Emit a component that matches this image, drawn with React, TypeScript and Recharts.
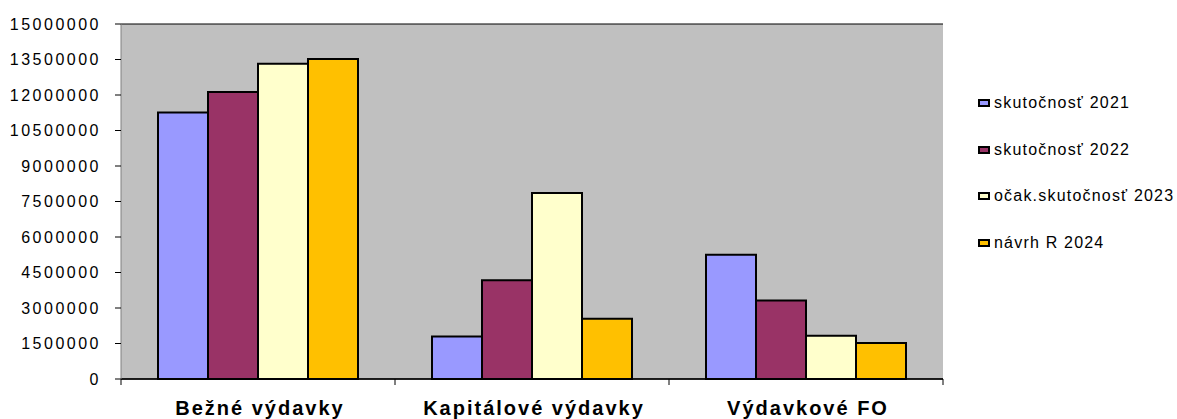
import { BarChart, Bar, XAxis, YAxis, CartesianGrid } from "recharts";

const categories = ["Bežné výdavky", "Kapitálové výdavky", "Výdavkové FO"];
const series = ["skutočnosť 2021", "skutočnosť 2022", "očak.skutočnosť 2023", "návrh R 2024"];
const colors = ["#9999FF", "#993366", "#FFFFCC", "#FFC000"];

const values2021 = [11260000, 1800000, 5250000];
const values2022 = [12130000, 4170000, 3320000];
const values2023 = [13320000, 7860000, 1830000];
const values2024 = [13520000, 2550000, 1520000];

const yTicks = [0, 1500000, 3000000, 4500000, 6000000, 7500000, 9000000, 10500000, 12000000, 13500000, 15000000];

const data = categories.map((name, i) => ({
  name,
  s0: values2021[i],
  s1: values2022[i],
  s2: values2023[i],
  s3: values2024[i],
}));

const W = 1177;
const H = 419;
const LEFT = 121;
const RIGHT = 943;
const BAND = (RIGHT - LEFT) / categories.length;

function CategoryTick(props: any) {
  const { x, y, payload, index } = props;
  return (
    <g>
      <line x1={x - BAND / 2} x2={x - BAND / 2} y1={y} y2={y + 6} stroke="#000" strokeWidth={1} />
      {index === categories.length - 1 && (
        <line x1={x + BAND / 2} x2={x + BAND / 2} y1={y} y2={y + 6} stroke="#000" strokeWidth={1} />
      )}
      <text
        x={x + 2}
        y={y + 36}
        textAnchor="middle"
        fontFamily="Liberation Sans, Arial, sans-serif"
        fontWeight="bold"
        fontSize={20}
        letterSpacing={2}
        fill="#000"
      >
        {payload.value}
      </text>
    </g>
  );
}

function LegendBox() {
  return (
    <div
      style={{
        position: "absolute",
        left: 978,
        top: 80,
        fontFamily: "Liberation Sans, Arial, sans-serif",
        fontSize: 16,
        letterSpacing: 1.2,
      }}
    >
      {series.map((s, i) => (
        <div key={s} style={{ display: "flex", alignItems: "center", height: 46.5, color: "#000" }}>
          <span
            style={{
              display: "inline-block",
              width: 8,
              height: 4,
              background: colors[i],
              border: "2px solid #000",
              marginRight: 4,
            }}
          />
          {s}
        </div>
      ))}
    </div>
  );
}

export default function App() {
  return (
    <div style={{ position: "absolute", left: 0, top: 0, width: W, height: H, background: "#fff" }}>
      <BarChart
        width={W}
        height={H}
        data={data}
        margin={{ top: 24, right: W - RIGHT, bottom: 0, left: 0 }}
        barGap={0}
        barCategoryGap={37}
      >
        <CartesianGrid vertical={false} stroke="#000" fill="#C0C0C0" fillOpacity={1} />
        <XAxis
          dataKey="name"
          height={H - 379}
          axisLine={{ stroke: "#000", strokeWidth: 1.5 }}
          tickLine={false}
          tickSize={0}
          tickMargin={0}
          tick={<CategoryTick />}
          interval={0}
        />
        <YAxis
          yAxisId="left"
          width={LEFT}
          domain={[0, 15000000]}
          ticks={yTicks}
          interval={0}
          axisLine={{ stroke: "#808080" }}
          tickLine={{ stroke: "#000" }}
          tickSize={6}
          tickMargin={14}
          tick={{ fill: "#000", fontSize: 16, fontFamily: "Liberation Sans, Arial, sans-serif", letterSpacing: 2.5 }}
        />
        <YAxis
          yAxisId="right"
          orientation="right"
          width={0}
          domain={[0, 15000000]}
          tick={false}
          tickLine={false}
          axisLine={{ stroke: "#808080" }}
        />
        {series.map((s, i) => (
          <Bar
            key={s}
            yAxisId="left"
            dataKey={`s${i}`}
            name={s}
            fill={colors[i]}
            stroke="#000"
            strokeWidth={2}
            isAnimationActive={false}
          />
        ))}
      </BarChart>
      <LegendBox />
    </div>
  );
}
